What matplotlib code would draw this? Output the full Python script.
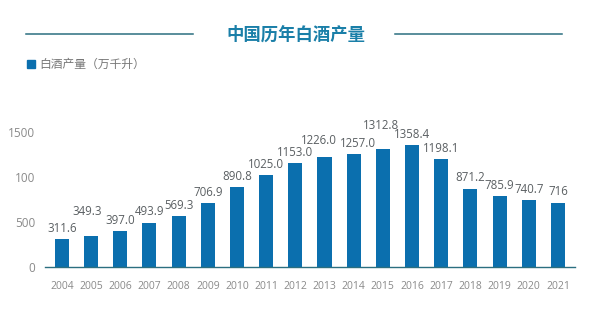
import numpy as np
import matplotlib
matplotlib.use("Agg")
import matplotlib.pyplot as plt

plt.rcParams['font.family'] = ['Open Sans', 'Noto Sans CJK SC', 'DejaVu Sans']

years = ["2004", "2005", "2006", "2007", "2008", "2009", "2010", "2011", "2012",
         "2013", "2014", "2015", "2016", "2017", "2018", "2019", "2020", "2021"]
output = [311.6, 349.3, 397.0, 493.9, 569.3, 706.9, 890.8, 1025.0, 1153.0,
          1226.0, 1257.0, 1312.8, 1358.4, 1198.1, 871.2, 785.9, 740.7, 716]
labels = ["311.6", "349.3", "397.0", "493.9", "569.3", "706.9", "890.8", "1025.0", "1153.0",
          "1226.0", "1257.0", "1312.8", "1358.4", "1198.1", "871.2", "785.9", "740.7", "716"]
yticks = [0, 500, 1000, 1500]
ytick_labels = ["0", "500", "100", "1500"]

title = "中国历年白酒产量"
legend_txt = "白酒产量（万千升）"

# label nudges (dx, dy in points) where the original moves them
nudge = {1: (-3, 10), 9: (-4, 4), 10: (3, 0), 11: (-1, 9)}

bar_c = "#0b6fae"
grey = "#8a8a8a"

fig = plt.figure(figsize=(5.92, 3.24), dpi=100)
ax = fig.add_axes([0.076, 0.176, 0.895, 0.444])
x = np.arange(len(years))
ax.bar(x, output, width=0.48, color=bar_c, zorder=2)

for i, (v, s) in enumerate(zip(output, labels)):
	dx, dy = nudge.get(i, (0, 0))
	ax.annotate(s, (x[i], v), xytext=(dx, 3 + dy), textcoords="offset points",
	            ha="center", va="bottom", fontsize=8.3, color="#5a5f62")

ax.set_xlim(-0.58, 17.58)
ax.set_ylim(0, 1600)
ax.set_xticks(x)
ax.set_xticklabels(years, fontsize=7.5, color=grey)
ax.set_yticks(yticks)
ax.set_yticklabels(ytick_labels, fontsize=8.5, color=grey)
ax.tick_params(length=0, pad=10)
ax.tick_params(axis="y", pad=7)
for sp in ["top", "right", "left"]:
	ax.spines[sp].set_visible(False)
ax.spines["bottom"].set_color("#2b6f80")
ax.spines["bottom"].set_linewidth(1.0)

fig.text(296/592, 1 - 35/324, title, ha="center", va="center", fontsize=12.5,
         fontweight="bold", color="#1a7fa8", family=["Noto Sans CJK SC"])
fig.add_artist(plt.Line2D([26/592, 193/592], [1 - 34/324] * 2, color="#2b6f80", lw=1.1))
fig.add_artist(plt.Line2D([395/592, 562/592], [1 - 34/324] * 2, color="#2b6f80", lw=1.1))
fig.add_artist(plt.Rectangle((27/592, 1 - 68/324), 8/592, 8/324, color=bar_c))
fig.text(39/592, 1 - 64/324, legend_txt, ha="left", va="center", fontsize=8.5,
         color="#777777", family=["Noto Sans CJK SC"])

fig.savefig("out.png", dpi=100)
